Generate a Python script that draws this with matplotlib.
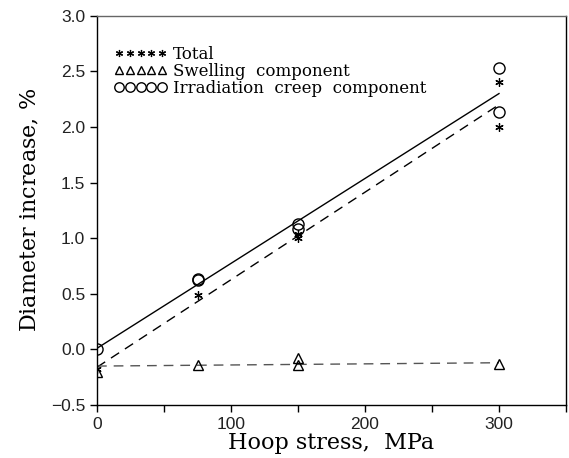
import numpy as np
import matplotlib
matplotlib.use('Agg')
import matplotlib.pyplot as plt

plt.rcParams['mathtext.fontset'] = 'dejavuserif'

# data
circ_x = [0, 75, 75, 150, 150, 300, 300]
circ_y = [0.0, 0.63, 0.62, 1.13, 1.08, 2.53, 2.13]

tot_x = [0, 75, 150, 150, 300, 300]
tot_y = [-0.18, 0.49, 1.04, 1.00, 2.40, 2.00]

swell_x = [0, 75, 150, 150, 300]
swell_y = [-0.20, -0.14, -0.08, -0.14, -0.13]

# fitted lines (end points)
creep_fit_x = [0, 300]
creep_fit_y = [0.01, 2.30]
tot_fit_x = [0, 300]
tot_fit_y = [-0.16, 2.20]
swell_fit_x = [0, 300]
swell_fit_y = [-0.15, -0.12]

serif = 'DejaVu Serif'
sans = 'Liberation Sans'

fig = plt.figure(figsize=(5.69, 4.58), dpi=100)
ax = fig.add_axes([0.1705, 0.1157, 0.8242, 0.850])

ax.plot(creep_fit_x, creep_fit_y, '-', color='black', lw=1.0)
ax.plot(tot_fit_x, tot_fit_y, '--', color='black', lw=1.0, dashes=(7, 5))
ax.plot(swell_fit_x, swell_fit_y, '--', color='#555555', lw=1.0, dashes=(7, 5))

ast = (6, 2, 0)
ax.plot(tot_x, tot_y, ls='none', marker=ast, ms=6, mec='black', mew=0.9,
        label='Total')
ax.plot(swell_x, swell_y, ls='none', marker='^', ms=6.5, mfc='none', mec='black',
        mew=1.0, label='Swelling  component')
ax.plot(circ_x, circ_y, ls='none', marker='o', ms=8, mfc='none', mec='black',
        mew=1.0, label='Irradiation  creep  component')

ax.set_xlim(0, 350)
ax.set_ylim(-0.5, 3.0)
ax.set_xticks(np.arange(0, 351, 50))
ax.set_xticklabels(['0', '', '100', '', '200', '', '300', ''])
ax.set_yticks(np.arange(-0.5, 3.01, 0.5))
ax.set_yticklabels(['\u22120.5', '0.0', '0.5', '1.0', '1.5', '2.0', '2.5', '3.0'])
ax.tick_params(direction='out', length=5, width=1, labelsize=12.5, top=False, right=False)
for lab in ax.get_xticklabels() + ax.get_yticklabels():
    lab.set_family(sans)
    lab.set_color('#222222')

ax.spines['top'].set_color('#666666')
for s in ax.spines.values():
    s.set_linewidth(1.0)

ax.set_xlabel('Hoop stress,  MPa', family=serif, fontsize=16, labelpad=0)
ax.set_ylabel('Diameter increase, $\\mathit{\\%}$', family=serif, fontsize=16, labelpad=7)

leg = ax.legend(loc='upper left', bbox_to_anchor=(0.022, 0.94), numpoints=5,
                frameon=False, handlelength=3.2, handletextpad=0.35,
                labelspacing=0.0, borderaxespad=0, markerscale=0.85,
                prop={'family': serif, 'size': 12})

fig.savefig('out.png', dpi=100)
